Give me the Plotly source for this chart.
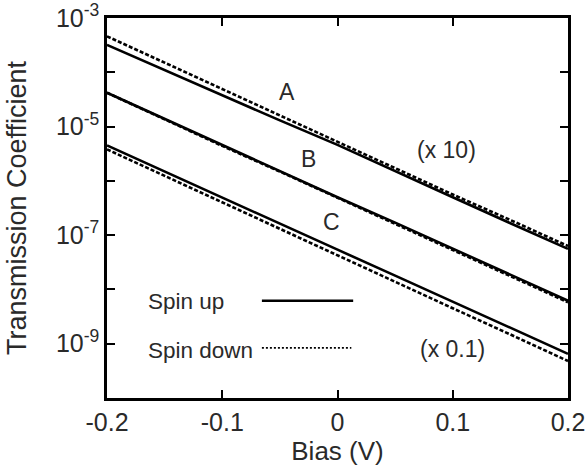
import plotly.graph_objects as go

bias = [-0.2, -0.15, -0.1, -0.05, 0.0, 0.05, 0.1, 0.15, 0.2]

a_up = [3.2e-4, 1.1e-4, 3.7e-5, 1.3e-5, 4.6e-6, 1.5e-6, 5.0e-7, 1.66e-7, 5.6e-8]
a_down = [4.6e-4, 1.5e-4, 4.9e-5, 1.6e-5, 5.2e-6, 1.7e-6, 5.6e-7, 1.9e-7, 6.3e-8]
b_up = [4.2e-5, 1.38e-5, 4.6e-6, 1.5e-6, 5.0e-7, 1.7e-7, 5.6e-8, 1.86e-8, 6.2e-9]
b_down = [4.2e-5, 1.35e-5, 4.4e-6, 1.48e-6, 4.9e-7, 1.6e-7, 5.4e-8, 1.78e-8, 5.8e-9]
c_up = [4.5e-6, 1.48e-6, 4.9e-7, 1.6e-7, 5.4e-8, 1.8e-8, 5.9e-9, 1.95e-9, 6.5e-10]
c_down = [3.8e-6, 1.23e-6, 4.0e-7, 1.3e-7, 4.3e-8, 1.38e-8, 4.5e-9, 1.48e-9, 4.8e-10]

x_ticks = [-0.2, -0.1, 0.0, 0.1, 0.2]
x_ticktext = ["-0.2", "-0.1", "0", "0.1", "0.2"]
y_ticks = [1e-3, 1e-4, 1e-5, 1e-6, 1e-7, 1e-8, 1e-9]
y_ticktext = ["10<sup>-3</sup>", "", "10<sup>-5</sup>", "", "10<sup>-7</sup>", "", "10<sup>-9</sup>"]

# label text, bias position, log10 of transmission position
curve_labels = [("A", -0.044, -4.36), ("B", -0.025, -5.59), ("C", -0.005, -6.75),
                ("(x 10)", 0.095, -5.43), ("(x 0.1)", 0.10, -9.09)]

FONT = "Liberation Sans, Arial, sans-serif"
TXT = "#2a2a2a"

fig = go.Figure()
for up, down in [(a_up, a_down), (b_up, b_down), (c_up, c_down)]:
    fig.add_trace(go.Scatter(x=bias, y=down, mode="lines",
                             line=dict(color="black", width=2.6, dash="4px,2px"),
                             showlegend=False))
    fig.add_trace(go.Scatter(x=bias, y=up, mode="lines",
                             line=dict(color="black", width=2.6),
                             showlegend=False))

for txt, xv, yv in curve_labels:
    fig.add_annotation(x=xv, y=yv, xref="x", yref="y", text=txt, showarrow=False,
                       font=dict(family=FONT, size=23, color=TXT))

# manual legend
fig.add_annotation(x=0.085, y=0.254, xref="paper", yref="paper", text="Spin up",
                   showarrow=False, xanchor="left", yanchor="middle",
                   font=dict(family=FONT, size=22.5, color=TXT))
fig.add_annotation(x=0.085, y=0.126, xref="paper", yref="paper", text="Spin down",
                   showarrow=False, xanchor="left", yanchor="middle",
                   font=dict(family=FONT, size=22.5, color=TXT))
fig.add_shape(type="line", xref="paper", yref="paper", x0=0.336, x1=0.534, y0=0.256, y1=0.256,
              line=dict(color="black", width=2.6))
fig.add_shape(type="line", xref="paper", yref="paper", x0=0.336, x1=0.530, y0=0.132, y1=0.132,
              line=dict(color="black", width=1.8, dash="2px,2px"))

axis_common = dict(showline=True, linecolor="black", linewidth=2.5, mirror="ticks",
                   ticks="inside", ticklen=8, tickwidth=2, tickcolor="black",
                   showgrid=False, zeroline=False, automargin=False,
                   tickfont=dict(family=FONT, size=25, color=TXT))

fig.update_xaxes(range=[-0.2, 0.2], tickvals=x_ticks, ticktext=x_ticktext,
                 title=dict(text="Bias (V)", font=dict(family=FONT, size=26, color=TXT), standoff=8),
                 **axis_common)
fig.update_yaxes(type="log", range=[-10, -3], tickvals=y_ticks, ticktext=y_ticktext,
                 title=dict(text="Transmission Coefficient", font=dict(family=FONT, size=27, color=TXT), standoff=22),
                 **axis_common)

fig.update_layout(width=586, height=472, margin=dict(l=107, r=18, t=18, b=74),
                  plot_bgcolor="white", paper_bgcolor="white")

fig.write_html("out.html")
